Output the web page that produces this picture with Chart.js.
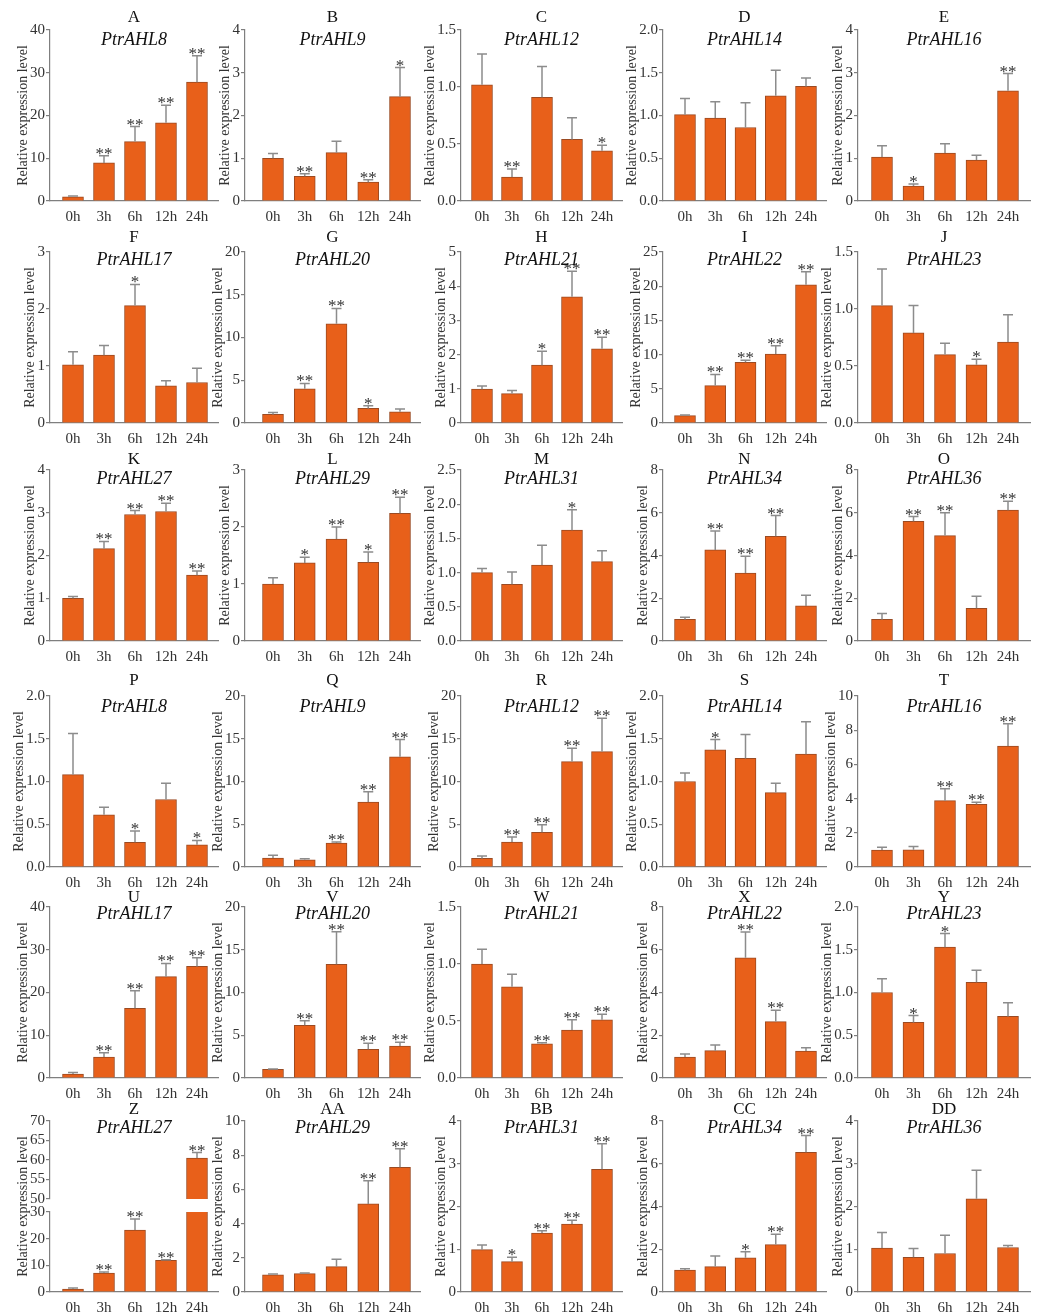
<!DOCTYPE html>
<html>
<head>
<meta charset="utf-8">
<script src="https://cdn.jsdelivr.net/npm/chart.js@4.4.0/dist/chart.umd.min.js"></script>
<style>
  body { margin: 0; background: #fff; width: 1042px; height: 1314px; position: relative; overflow: hidden; }
  canvas { position: absolute; }
</style>
</head>
<body>
<script>
// time points and panel labels
const hours = ['0h', '3h', '6h', '12h', '24h'];
const letters = ['A','B','C','D','E','F','G','H','I','J','K','L','M','N','O',
                 'P','Q','R','S','T','U','V','W','X','Y','Z','AA','BB','CC','DD'];
const genes = ['PtrAHL8','PtrAHL9','PtrAHL12','PtrAHL14','PtrAHL16',
               'PtrAHL17','PtrAHL20','PtrAHL21','PtrAHL22','PtrAHL23',
               'PtrAHL27','PtrAHL29','PtrAHL31','PtrAHL34','PtrAHL36',
               'PtrAHL8','PtrAHL9','PtrAHL12','PtrAHL14','PtrAHL16',
               'PtrAHL17','PtrAHL20','PtrAHL21','PtrAHL22','PtrAHL23',
               'PtrAHL27','PtrAHL29','PtrAHL31','PtrAHL34','PtrAHL36'];

// y axis range per panel (Z uses the broken axis below)
const yMax  = [40, 4, 1.5, 2, 4,   3, 20, 5, 25, 1.5,   4, 3, 2.5, 8, 8,
               2, 20, 20, 2, 10,   40, 20, 1.5, 8, 2,   30, 10, 4, 8, 4];
const yStep = [10, 1, 0.5, 0.5, 1, 1, 5, 1, 5, 0.5,     1, 1, 0.5, 2, 2,
               0.5, 5, 5, 0.5, 2,  10, 5, 0.5, 2, 0.5,  10, 2, 1, 2, 1];
// broken axis for Z: lower part 0-30, upper part 50-70
const brokenLow  = [0, 30, 10];
const brokenHigh = [50, 70, 5];

// relative expression (mean) and SD
const means = [
  [1.0, 8.9, 13.9, 18.3, 27.8],
  [1.0, 0.58, 1.13, 0.44, 2.44],
  [1.02, 0.21, 0.91, 0.54, 0.44],
  [1.01, 0.97, 0.86, 1.23, 1.34],
  [1.03, 0.35, 1.12, 0.96, 2.58],
  [1.02, 1.19, 2.06, 0.65, 0.71],
  [1.0, 4.0, 11.6, 1.71, 1.32],
  [0.99, 0.86, 1.69, 3.69, 2.17],
  [1.07, 5.47, 8.87, 10.08, 20.2],
  [1.03, 0.79, 0.60, 0.51, 0.71],
  [1.0, 2.16, 2.96, 3.03, 1.54],
  [1.0, 1.37, 1.79, 1.38, 2.24],
  [1.0, 0.83, 1.11, 1.62, 1.16],
  [1.01, 4.26, 3.18, 4.9, 1.64],
  [1.01, 5.6, 4.93, 1.53, 6.12],
  [1.08, 0.61, 0.29, 0.79, 0.26],
  [1.05, 0.85, 2.8, 7.6, 12.9],
  [1.0, 2.92, 4.05, 12.33, 13.5],
  [1.0, 1.37, 1.27, 0.87, 1.32],
  [0.99, 1.01, 3.88, 3.67, 7.07],
  [0.93, 4.9, 16.3, 23.7, 26.1],
  [1.01, 6.16, 13.3, 3.35, 3.74],
  [1.0, 0.8, 0.3, 0.42, 0.51],
  [0.98, 1.28, 5.62, 2.64, 1.26],
  [1.0, 0.65, 1.53, 1.12, 0.72],
  [1.1, 7.1, 23.25, 11.9, 60.5],
  [1.01, 1.07, 1.48, 5.15, 7.29],
  [0.99, 0.71, 1.38, 1.59, 2.87],
  [1.02, 1.19, 1.6, 2.22, 6.54],
  [1.03, 0.81, 0.9, 2.18, 1.04]
];
const sds = [
  [0.15, 1.7, 3.5, 4.1, 6.2],
  [0.11, 0.06, 0.27, 0.06, 0.68],
  [0.27, 0.07, 0.27, 0.19, 0.05],
  [0.19, 0.19, 0.29, 0.30, 0.10],
  [0.26, 0.05, 0.22, 0.11, 0.40],
  [0.23, 0.17, 0.37, 0.09, 0.25],
  [0.24, 0.62, 1.8, 0.31, 0.31],
  [0.09, 0.09, 0.41, 0.75, 0.34],
  [0.09, 1.63, 0.29, 1.22, 1.9],
  [0.32, 0.24, 0.10, 0.05, 0.24],
  [0.04, 0.17, 0.09, 0.19, 0.10],
  [0.11, 0.10, 0.21, 0.18, 0.28],
  [0.06, 0.18, 0.29, 0.30, 0.16],
  [0.10, 0.89, 0.78, 0.97, 0.50],
  [0.28, 0.22, 1.07, 0.56, 0.42],
  [0.48, 0.09, 0.13, 0.19, 0.05],
  [0.31, 0.12, 0.11, 1.2, 2.0],
  [0.28, 0.58, 0.89, 1.57, 3.9],
  [0.10, 0.12, 0.28, 0.11, 0.38],
  [0.16, 0.19, 0.70, 0.12, 1.30],
  [0.37, 1.0, 4.1, 3.1, 2.0],
  [0.04, 0.54, 3.8, 0.70, 0.43],
  [0.13, 0.11, 0.01, 0.09, 0.05],
  [0.14, 0.26, 1.21, 0.53, 0.16],
  [0.16, 0.08, 0.16, 0.14, 0.16],
  [0.4, 0.4, 4.15, 0.2, 1.4],
  [0.04, 0.04, 0.43, 1.36, 1.09],
  [0.11, 0.10, 0.05, 0.09, 0.60],
  [0.07, 0.50, 0.28, 0.48, 0.78],
  [0.36, 0.21, 0.43, 0.67, 0.05]
];
// significance vs 0h
const stars = [
  ['', '**', '**', '**', '**'],
  ['', '**', '', '**', '*'],
  ['', '**', '', '', '*'],
  ['', '', '', '', ''],
  ['', '*', '', '', '**'],
  ['', '', '*', '', ''],
  ['', '**', '**', '*', ''],
  ['', '', '*', '**', '**'],
  ['', '**', '**', '**', '**'],
  ['', '', '', '*', ''],
  ['', '**', '**', '**', '**'],
  ['', '*', '**', '*', '**'],
  ['', '', '', '*', ''],
  ['', '**', '**', '**', ''],
  ['', '**', '**', '', '**'],
  ['', '', '*', '', '*'],
  ['', '', '**', '**', '**'],
  ['', '**', '**', '**', '**'],
  ['', '*', '', '', ''],
  ['', '', '**', '**', '**'],
  ['', '**', '**', '**', '**'],
  ['', '**', '**', '**', '**'],
  ['', '', '**', '**', '**'],
  ['', '', '**', '**', ''],
  ['', '*', '*', '', ''],
  ['', '**', '**', '**', '**'],
  ['', '', '', '**', '**'],
  ['', '*', '**', '**', '**'],
  ['', '', '*', '**', '**'],
  ['', '', '', '', '']
];

// grid geometry (page pixels)
const colAxis  = [50, 245, 461, 663, 858];
const colFirst = [73, 273, 482, 685, 882];
const colLast  = [197, 400, 602, 806, 1008];
const colRight = [218, 420, 622, 826, 1030];
const rowTop    = [30, 252, 470, 696, 907, 1121];
const rowBottom = [201, 423, 641, 867, 1078, 1292];
const letterY   = [18, 238, 460, 681, 898, 1110];
const geneY     = [40, 260, 479, 707, 914, 1128];

const barFill = '#E8601A';
const barEdge = '#9a4a22';
const axisGrey = '#7f7f7f';
const serif = '"Liberation Serif", "Times New Roman", serif';

Chart.defaults.font.family = serif;
Chart.defaults.font.size = 15;
Chart.defaults.color = '#333';

// error bars, stars, panel titles and y title
function decor(p) {
  return {
    id: 'decor',
    afterDraw(chart) {
      const ctx = chart.ctx, ys = chart.scales.y, area = chart.chartArea;
      const meta = chart.getDatasetMeta(0);
      ctx.save();
      meta.data.forEach((bar, i) => {
        const v = means[p.k][i];
        if (v < ys.min || v > ys.max) return;
        const y0 = ys.getPixelForValue(v);
        const y1 = ys.getPixelForValue(v + sds[p.k][i]);
        ctx.strokeStyle = '#8c8c8c';
        ctx.lineWidth = 1.5;
        ctx.beginPath();
        ctx.moveTo(bar.x, y0);
        ctx.lineTo(bar.x, y1);
        ctx.moveTo(bar.x - 5, y1);
        ctx.lineTo(bar.x + 5, y1);
        ctx.stroke();
        if (stars[p.k][i]) {
          ctx.fillStyle = '#333';
          ctx.font = '17px ' + serif;
          ctx.textAlign = 'center';
          ctx.textBaseline = 'alphabetic';
          ctx.fillText(stars[p.k][i], bar.x, y1 + 3);
        }
      });
      const cx = (area.left + area.right) / 2;
      ctx.textAlign = 'center';
      ctx.textBaseline = 'middle';
      if (p.titles) {
        ctx.fillStyle = '#111';
        ctx.font = '17px ' + serif;
        ctx.fillText(letters[p.k], cx, p.letterY - p.top);
        ctx.font = 'italic 18px ' + serif;
        ctx.fillText(genes[p.k], cx, p.geneY - p.top);
      }
      if (p.yTitle) {
        ctx.font = '15px ' + serif;
        const lw = Math.max(...ys.ticks.map(t => ctx.measureText(String(t.label)).width));
        const tx = area.left - 5 - lw - 7;
        const ty = p.titleMid - p.top;
        ctx.translate(tx, ty);
        ctx.rotate(-Math.PI / 2);
        ctx.fillStyle = '#333';
        ctx.font = '14px ' + serif;
        ctx.fillText('Relative expression level', 0, 0);
      }
      ctx.restore();
    }
  };
}

function makePanel(k, o) {
  const c = k % 5;
  const unit = (colLast[c] - colFirst[c]) / 4;
  const xMin = -(colFirst[c] - colAxis[c]) / unit;
  const xMax = 4 + (colRight[c] - colLast[c]) / unit;
  const left = colAxis[c] - 60;
  const top = o.plotTop - o.padTop;
  const padBottom = 10;
  const width = colRight[c] + 6 - left;
  const height = o.plotBottom + (o.showX ? 32 : padBottom) - top;

  const cv = document.createElement('canvas');
  cv.width = width;
  cv.height = height;
  cv.style.left = left + 'px';
  cv.style.top = top + 'px';
  cv.style.width = width + 'px';
  cv.style.height = height + 'px';
  document.body.appendChild(cv);

  const dec = o.step < 1 ? 1 : 0;
  new Chart(cv, {
    type: 'bar',
    data: {
      datasets: [{
        data: means[k].map((v, i) => ({ x: i, y: v })),
        backgroundColor: barFill,
        borderColor: barEdge,
        borderWidth: 1,
        borderSkipped: 'start',
        barThickness: 21,
        grouped: false,
        clip: 0
      }]
    },
    options: {
      responsive: false,
      animation: false,
      devicePixelRatio: 1,
      layout: { padding: { left: 20, right: 6, top: o.padTop, bottom: padBottom } },
      plugins: { legend: { display: false }, tooltip: { enabled: false } },
      scales: {
        x: {
          type: 'linear',
          display: o.showX,
          offset: false,
          min: xMin,
          max: xMax,
          afterBuildTicks: s => { s.ticks = hours.map((h, i) => ({ value: i })); },
          afterFit: s => { s.height = o.showX ? 22 : 0; },
          ticks: { callback: (v, i) => hours[i], padding: 7, maxRotation: 0, autoSkip: false, color: '#333' },
          grid: { display: false, drawTicks: false, offset: false },
          border: { color: axisGrey, width: 1.2 }
        },
        y: {
          min: o.min,
          max: o.max,
          afterFit: s => { s.width = 40; },
          ticks: { stepSize: o.step, callback: v => v.toFixed(dec), padding: 1, color: '#333', autoSkip: false },
          grid: { drawOnChartArea: false, tickLength: 4, color: axisGrey, lineWidth: 1.2 },
          border: { color: axisGrey, width: 1.2 }
        }
      }
    },
    plugins: [decor({ k: k, top: top, titles: o.titles, yTitle: o.yTitle,
                      letterY: o.letterY, geneY: o.geneY, titleMid: o.titleMid })]
  });
}

for (let k = 0; k < 30; k++) {
  const r = Math.floor(k / 5);
  if (letters[k] === 'Z') {
    const breakTop = 1199, breakBottom = 1212;
    makePanel(k, { plotTop: rowTop[r], plotBottom: breakTop, padTop: 34, showX: false,
                   min: brokenHigh[0], max: brokenHigh[1], step: brokenHigh[2],
                   titles: true, yTitle: false, letterY: letterY[r], geneY: geneY[r] });
    // lower part reaches up to the same top so the y title fits
    makePanel(k, { plotTop: breakBottom, plotBottom: rowBottom[r], padTop: breakBottom - rowTop[r] + 20, showX: true,
                   min: brokenLow[0], max: brokenLow[1], step: brokenLow[2],
                   titles: false, yTitle: true, titleMid: (rowTop[r] + rowBottom[r]) / 2 });
    continue;
  }
  makePanel(k, { plotTop: rowTop[r], plotBottom: rowBottom[r], padTop: 34, showX: true,
                 min: 0, max: yMax[k], step: yStep[k],
                 titles: true, yTitle: true, letterY: letterY[r], geneY: geneY[r],
                 titleMid: (rowTop[r] + rowBottom[r]) / 2 });
}
</script>
</body>
</html>
